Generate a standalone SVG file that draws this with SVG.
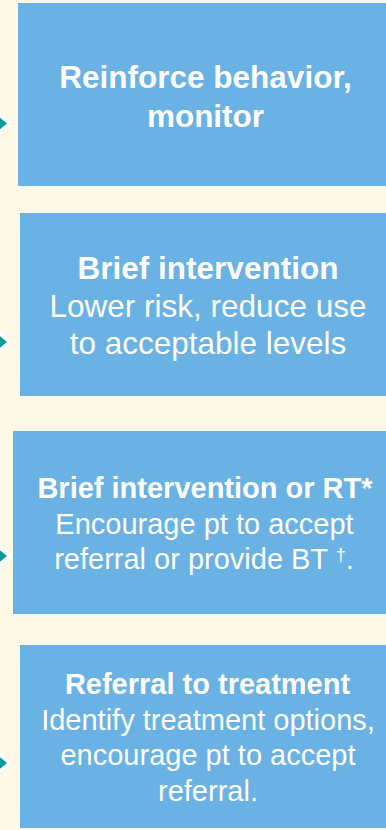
<svg xmlns="http://www.w3.org/2000/svg" xmlns:xlink="http://www.w3.org/1999/xlink" width="386" height="830" viewBox="0 0 386 830">
  <style>
    .bg { fill: #FEF9E7; }
    .box { fill: #6AB1E4; }
    .t { fill: #FFFFFF; font-family: "Liberation Sans", Arial, sans-serif; text-anchor: middle; }
    .b { font-weight: bold; }
    .big { font-size: 31.5px; }
    .sm { font-size: 29px; }
    .ah-out { fill: #FFFFFF; }
    .ah-in { fill: #0A9A9B; }
  </style>
  <defs>
    <g id="ah">
      <polygon class="ah-out" points="11.5,0 -14,-24 -14,24"/>
      <polygon class="ah-in" points="7,0 -14,-17 -14,17"/>
    </g>
  </defs>
  <rect class="bg" x="0" y="0" width="386" height="830"/>

  <g id="connectors">
    <use xlink:href="#ah" x="0" y="123.5"/>
    <use xlink:href="#ah" x="0" y="342"/>
    <use xlink:href="#ah" x="0" y="556"/>
    <use xlink:href="#ah" x="0" y="763"/>
  </g>

  <g id="node-reinforce">
    <rect class="box" x="18" y="3" width="380" height="183"/>
    <text class="t b big" x="205.5" y="88">Reinforce behavior,</text>
    <text class="t b big" x="205.5" y="127">monitor</text>
  </g>

  <g id="node-brief">
    <rect class="box" x="20" y="213" width="380" height="183"/>
    <text class="t b big" x="208" y="279">Brief intervention</text>
    <text class="t big" x="208" y="316.7">Lower risk, reduce use</text>
    <text class="t big" x="208" y="354">to acceptable levels</text>
  </g>

  <g id="node-brief-rt">
    <rect class="box" x="13" y="431" width="380" height="183"/>
    <text class="t b sm" x="205" y="498">Brief intervention or RT*</text>
    <text class="t sm" x="204.5" y="534">Encourage pt to accept</text>
    <text class="t sm" x="204" y="568.5">referral or provide BT <tspan font-size="18" dy="-8">†</tspan><tspan dy="8">.</tspan></text>
  </g>

  <g id="node-referral">
    <rect class="box" x="20" y="645" width="380" height="183"/>
    <text class="t b sm" x="207.5" y="694">Referral to treatment</text>
    <text class="t sm" x="208" y="729.5">Identify treatment options,</text>
    <text class="t sm" x="208" y="765">encourage pt to accept</text>
    <text class="t sm" x="208" y="800.5">referral.</text>
  </g>
</svg>
